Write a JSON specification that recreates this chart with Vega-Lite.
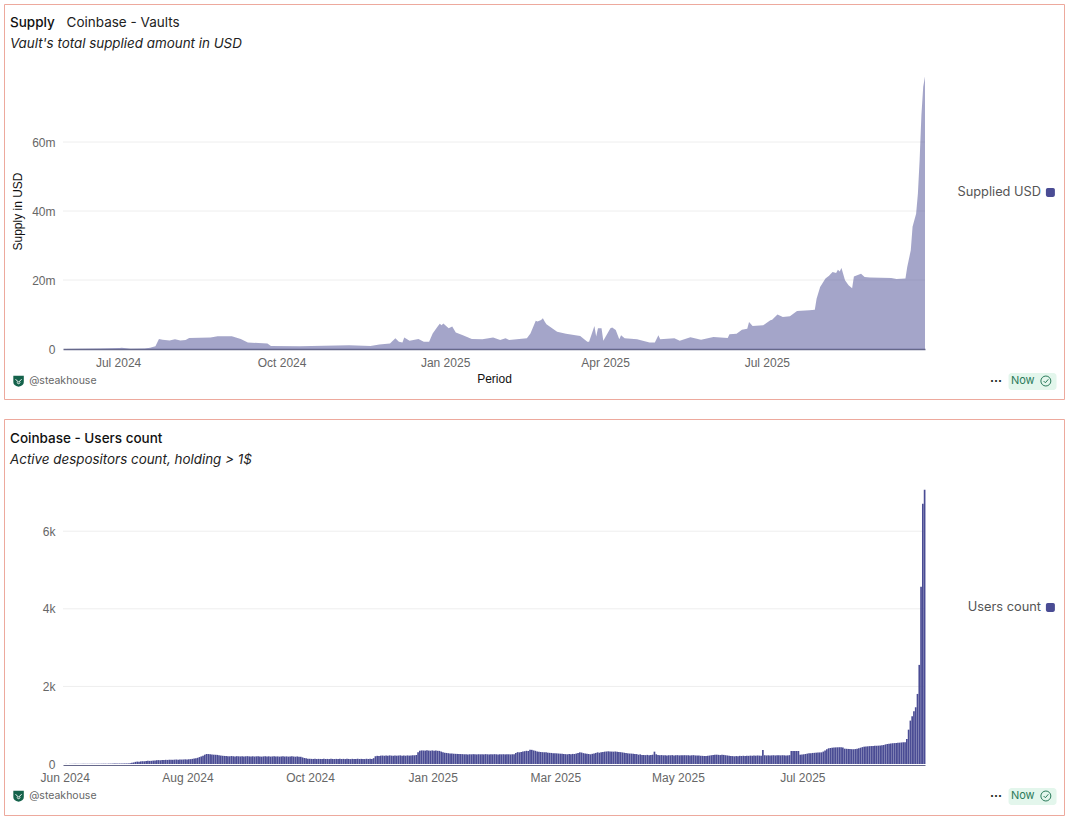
{
"$schema":"https://vega.github.io/schema/vega-lite/v6.json",
"padding":{"left":3,"top":3,"right":3,"bottom":1},
"background":"white",
"spacing":18,
"resolve":{"scale":{"color":"independent"}},
"config":{"view":{"stroke":"#eda99d","strokeWidth":1}},
"vconcat":[
{"width":1060,"height":395,"view":{"stroke":"#eda99d"},
"title":{"text":"Supply","subtitle":"Vault's total supplied amount in USD","anchor":"start","frame":"group","offset":-46,"dx":6,"font":"Inter","fontSize":13.5,"fontWeight":500,"color":"#111","subtitleFont":"Inter","subtitleFontStyle":"italic","subtitleFontSize":13.4,"subtitleColor":"#222","subtitlePadding":7},
"layer":[
{"data":{"values":[{"v":20000000},{"v":40000000},{"v":60000000}]},"mark":{"type":"rule","color":"#eeeeee","strokeWidth":1},
"encoding":{"x":{"datum":{"year":2024,"month":5,"date":31,"utc":true},"type":"temporal","scale":{"type":"utc","domain":[{"year":2024,"month":5,"date":31,"utc":true},{"year":2025,"month":9,"date":28,"utc":true}],"range":[59,921]},
"axis":{"values":[{"year":2024,"month":7,"date":1,"utc":true},{"year":2024,"month":10,"date":1,"utc":true},{"year":2025,"month":1,"date":1,"utc":true},{"year":2025,"month":4,"date":1,"utc":true},{"year":2025,"month":7,"date":1,"utc":true}],"format":"%b %Y","offset":-50,"title":"Period","titleFont":"Liberation Sans","titleFontWeight":"normal","titleFontSize":12,"titleColor":"#111","titlePadding":5,"labelFont":"Liberation Sans","labelFontSize":12,"labelColor":"#666","labelPadding":8,"ticks":false,"grid":false,"domainColor":"#66688a","domainWidth":1.5,"labelFlush":false}},
"x2":{"datum":{"year":2025,"month":9,"date":28,"utc":true}},
"y":{"field":"v","type":"quantitative","scale":{"domain":[0,80000000],"range":[345,69],"nice":false},"axis":{"values":[0,20000000,40000000,60000000],"labelExpr":"datum.value == 0 ? '0' : (datum.value / 1000000) + 'm'","offset":-59,"title":"Supply in USD","titleFont":"Liberation Sans","titleFontWeight":"normal","titleFontSize":12,"titleColor":"#111","titlePadding":7,"labelFont":"Liberation Sans","labelFontSize":12,"labelColor":"#666","labelPadding":8,"ticks":false,"domain":false,"grid":false}}}},
{"data":{"values":[
{"d":"2024-06-01","v":20000},{"d":"2024-06-10","v":50000},{"d":"2024-06-21","v":150000},{"d":"2024-07-02","v":300000},{"d":"2024-07-03","v":350000},{"d":"2024-07-08","v":100000},{"d":"2024-07-16","v":150000},{"d":"2024-07-19","v":350000},{"d":"2024-07-22","v":800000},{"d":"2024-07-24","v":2900000},{"d":"2024-07-26","v":2700000},{"d":"2024-07-30","v":2500000},{"d":"2024-08-02","v":2800000},{"d":"2024-08-05","v":2500000},{"d":"2024-08-08","v":2600000},{"d":"2024-08-10","v":3200000},{"d":"2024-08-22","v":3300000},{"d":"2024-08-26","v":3700000},{"d":"2024-09-03","v":3700000},{"d":"2024-09-08","v":2900000},{"d":"2024-09-12","v":1900000},{"d":"2024-09-23","v":1600000},{"d":"2024-09-25","v":900000},{"d":"2024-10-11","v":800000},{"d":"2024-11-08","v":1060000},{"d":"2024-11-20","v":900000},{"d":"2024-11-25","v":1300000},{"d":"2024-12-01","v":1600000},{"d":"2024-12-04","v":3100000},{"d":"2024-12-06","v":2100000},{"d":"2024-12-08","v":1900000},{"d":"2024-12-09","v":3300000},{"d":"2024-12-12","v":2400000},{"d":"2024-12-17","v":2900000},{"d":"2024-12-20","v":2100000},{"d":"2024-12-23","v":2100000},{"d":"2024-12-25","v":4500000},{"d":"2024-12-28","v":6700000},{"d":"2024-12-29","v":7300000},{"d":"2024-12-30","v":6900000},{"d":"2024-12-31","v":7400000},{"d":"2025-01-03","v":6000000},{"d":"2025-01-05","v":6500000},{"d":"2025-01-07","v":4800000},{"d":"2025-01-11","v":4000000},{"d":"2025-01-16","v":2900000},{"d":"2025-01-22","v":2800000},{"d":"2025-01-28","v":3300000},{"d":"2025-02-01","v":2600000},{"d":"2025-02-04","v":3100000},{"d":"2025-02-06","v":2600000},{"d":"2025-02-16","v":3100000},{"d":"2025-02-18","v":4500000},{"d":"2025-02-21","v":8200000},{"d":"2025-02-22","v":8000000},{"d":"2025-02-24","v":8400000},{"d":"2025-02-25","v":8900000},{"d":"2025-02-26","v":8000000},{"d":"2025-02-27","v":7200000},{"d":"2025-03-05","v":5000000},{"d":"2025-03-10","v":4400000},{"d":"2025-03-18","v":3800000},{"d":"2025-03-22","v":2100000},{"d":"2025-03-23","v":2100000},{"d":"2025-03-26","v":6700000},{"d":"2025-03-27","v":3600000},{"d":"2025-03-28","v":6000000},{"d":"2025-03-30","v":6000000},{"d":"2025-03-31","v":2400000},{"d":"2025-04-04","v":6000000},{"d":"2025-04-05","v":6200000},{"d":"2025-04-07","v":5500000},{"d":"2025-04-09","v":2800000},{"d":"2025-04-10","v":4000000},{"d":"2025-04-12","v":3100000},{"d":"2025-04-19","v":2800000},{"d":"2025-04-26","v":1900000},{"d":"2025-04-29","v":1900000},{"d":"2025-05-01","v":4000000},{"d":"2025-05-02","v":2800000},{"d":"2025-05-10","v":3100000},{"d":"2025-05-13","v":2400000},{"d":"2025-05-19","v":3400000},{"d":"2025-05-25","v":2700000},{"d":"2025-06-01","v":3500000},{"d":"2025-06-09","v":3200000},{"d":"2025-06-10","v":4300000},{"d":"2025-06-14","v":4400000},{"d":"2025-06-17","v":5600000},{"d":"2025-06-20","v":5900000},{"d":"2025-06-21","v":7800000},{"d":"2025-06-23","v":6700000},{"d":"2025-06-29","v":6900000},{"d":"2025-07-03","v":8300000},{"d":"2025-07-04","v":8500000},{"d":"2025-07-07","v":10000000},{"d":"2025-07-10","v":9300000},{"d":"2025-07-14","v":9500000},{"d":"2025-07-18","v":11000000},{"d":"2025-07-25","v":11200000},{"d":"2025-07-28","v":11400000},{"d":"2025-07-29","v":14600000},{"d":"2025-07-31","v":18000000},{"d":"2025-08-03","v":20400000},{"d":"2025-08-05","v":21200000},{"d":"2025-08-07","v":22300000},{"d":"2025-08-09","v":22000000},{"d":"2025-08-10","v":23000000},{"d":"2025-08-11","v":22500000},{"d":"2025-08-12","v":23500000},{"d":"2025-08-14","v":19900000},{"d":"2025-08-16","v":18500000},{"d":"2025-08-18","v":17600000},{"d":"2025-08-19","v":21000000},{"d":"2025-08-23","v":21800000},{"d":"2025-08-25","v":20900000},{"d":"2025-08-28","v":20700000},{"d":"2025-09-09","v":20600000},{"d":"2025-09-12","v":20300000},{"d":"2025-09-17","v":20400000},{"d":"2025-09-18","v":23800000},{"d":"2025-09-20","v":28600000},{"d":"2025-09-21","v":35400000},{"d":"2025-09-23","v":39200000},{"d":"2025-09-24","v":45000000},{"d":"2025-09-25","v":55000000},{"d":"2025-09-26","v":68000000},{"d":"2025-09-27","v":76000000},{"d":"2025-09-28","v":79000000}
]},"mark":{"type":"area","opacity":0.5},
"encoding":{"x":{"field":"d","type":"temporal"},"y":{"field":"v","type":"quantitative"},
"color":{"datum":"Supplied USD","scale":{"range":["#4a4c94"]},"legend":{"title":null,"orient":"none","legendX":1040,"legendY":182,"symbolType":"M-1,-0.6 Q-1,-1 -0.6,-1 L0.6,-1 Q1,-1 1,-0.6 L1,0.6 Q1,1 0.6,1 L-0.6,1 Q-1,1 -1,0.6 Z","symbolSize":81,"symbolOpacity":1,"labelFont":"Inter","labelFontSize":12.8,"labelColor":"#555","encode":{"labels":{"update":{"align":{"value":"right"},"x":{"value":-3}}}}}}}},
{"data":{"values":[{"t":"Coinbase - Vaults"}]},"mark":{"type":"text","align":"left","font":"Inter","fontSize":13.5,"color":"#222"},"encoding":{"text":{"field":"t"},"x":{"datum":{"year":2024,"month":6,"date":2,"utc":true},"type":"temporal"},"y":{"datum":94370000}}},
{"data":{"values":[{"t":"@steakhouse"}]},"mark":{"type":"text","align":"left","font":"Inter","fontSize":10.5,"color":"#666"},"encoding":{"text":{"field":"t"},"x":{"datum":{"year":2024,"month":5,"date":12,"utc":true},"type":"temporal"},"y":{"datum":-9280000}}},
{"data":{"values":[{"t":"logo"}]},"mark":{"type":"point","filled":true,"opacity":1,"color":"#14624b","size":110,"shape":"M-1,-1 L1,-1 L1,0.2 Q1,0.9 0,1.1 Q-1,0.9 -1,0.2 Z"},"encoding":{"x":{"datum":{"year":2024,"month":5,"date":6,"utc":true},"type":"temporal"},"y":{"datum":-9280000}}},
{"data":{"values":[{"t":"logo"}]},"mark":{"type":"point","filled":false,"opacity":1,"color":"white","strokeWidth":1,"size":36,"shape":"M-1,-0.6 L0,0.4 L1,-0.6 M-0.6,0.5 L0,0.9 L0.6,0.5"},"encoding":{"x":{"datum":{"year":2024,"month":5,"date":6,"utc":true},"type":"temporal"},"y":{"datum":-9280000}}},
{"data":{"values":[{"t":"···"}]},"mark":{"type":"text","font":"Inter","fontSize":12,"fontWeight":"bold","color":"#222"},"encoding":{"text":{"field":"t"},"x":{"datum":{"year":2025,"month":11,"date":7,"utc":true},"type":"temporal"},"y":{"datum":-9280000}}},
{"data":{"values":[{"t":"badge"}]},"mark":{"type":"rect","color":"#e3f6ec","cornerRadius":3},"encoding":{"x":{"datum":{"year":2025,"month":11,"date":14,"utc":true},"type":"temporal"},"x2":{"datum":{"year":2025,"month":12,"date":11,"utc":true}},"y":{"datum":-6960000},"y2":{"datum":-11900000}}},
{"data":{"values":[{"t":"Now"}]},"mark":{"type":"text","font":"Inter","fontSize":11,"color":"#2a7a5a"},"encoding":{"text":{"field":"t"},"x":{"datum":{"year":2025,"month":11,"date":22,"utc":true},"type":"temporal"},"y":{"datum":-9280000}}},
{"data":{"values":[{"t":"check"}]},"mark":{"type":"point","filled":false,"opacity":1,"color":"#2a7a5a","strokeWidth":1,"size":100,"shape":"M-1,0 A1,1 0 1,1 1,0 A1,1 0 1,1 -1,0 M-0.45,0 L-0.1,0.35 L0.5,-0.35"},"encoding":{"x":{"datum":{"year":2025,"month":12,"date":5,"utc":true},"type":"temporal"},"y":{"datum":-9280000}}}
]},
{"width":1060,"height":396,"view":{"stroke":"#eda99d"},
"title":{"text":"Coinbase - Users count","subtitle":"Active despositors count, holding > 1$","anchor":"start","frame":"group","offset":-47,"dx":6,"font":"Inter","fontSize":13.5,"fontWeight":500,"color":"#111","subtitleFont":"Inter","subtitleFontStyle":"italic","subtitleFontSize":13.4,"subtitleColor":"#222","subtitlePadding":7},
"layer":[
{"data":{"values":[{"v":2000},{"v":4000},{"v":6000}]},"mark":{"type":"rule","color":"#eeeeee","strokeWidth":1},
"encoding":{"x":{"datum":{"year":2024,"month":5,"date":31,"utc":true},"type":"temporal","scale":{"type":"utc","domain":[{"year":2024,"month":5,"date":31,"utc":true},{"year":2025,"month":9,"date":28,"utc":true}],"range":[59,921]},
"axis":{"values":[{"year":2024,"month":6,"date":1,"utc":true},{"year":2024,"month":8,"date":9,"utc":true},{"year":2024,"month":10,"date":17,"utc":true},{"year":2024,"month":12,"date":25,"utc":true},{"year":2025,"month":3,"date":4,"utc":true},{"year":2025,"month":5,"date":12,"utc":true},{"year":2025,"month":7,"date":21,"utc":true}],"labelExpr":"utcFormat(utcOffset('date', datum.value, 7), '%b %Y')","offset":-50,"title":null,"labelFont":"Liberation Sans","labelFontSize":12,"labelColor":"#666","labelPadding":7,"ticks":false,"grid":false,"domainColor":"#66688a","domainWidth":1,"labelFlush":false}},
"x2":{"datum":{"year":2025,"month":9,"date":28,"utc":true}},
"y":{"field":"v","type":"quantitative","scale":{"domain":[0,7100],"range":[345,69.5],"nice":false},"axis":{"values":[0,2000,4000,6000],"labelExpr":"datum.value == 0 ? '0' : (datum.value / 1000) + 'k'","offset":-59,"title":null,"labelFont":"Liberation Sans","labelFontSize":12,"labelColor":"#666","labelPadding":8,"ticks":false,"domain":false,"grid":false}}}},
{"data":{"values":[
{"d":"2024-06-01","v":3},{"d":"2024-06-02","v":3},{"d":"2024-06-03","v":3},{"d":"2024-06-04","v":3},{"d":"2024-06-05","v":4},{"d":"2024-06-06","v":4},{"d":"2024-06-07","v":4},{"d":"2024-06-08","v":4},{"d":"2024-06-09","v":4},{"d":"2024-06-10","v":5},{"d":"2024-06-11","v":5},{"d":"2024-06-12","v":5},{"d":"2024-06-13","v":5},{"d":"2024-06-14","v":5},{"d":"2024-06-15","v":6},{"d":"2024-06-16","v":6},{"d":"2024-06-17","v":6},{"d":"2024-06-18","v":6},{"d":"2024-06-19","v":7},{"d":"2024-06-20","v":7},{"d":"2024-06-21","v":7},{"d":"2024-06-22","v":8},{"d":"2024-06-23","v":8},{"d":"2024-06-24","v":8},{"d":"2024-06-25","v":9},{"d":"2024-06-26","v":9},{"d":"2024-06-27","v":10},{"d":"2024-06-28","v":10},{"d":"2024-06-29","v":11},{"d":"2024-06-30","v":11},
{"d":"2024-07-01","v":12},{"d":"2024-07-02","v":12},{"d":"2024-07-03","v":13},{"d":"2024-07-04","v":14},{"d":"2024-07-05","v":14},{"d":"2024-07-06","v":15},{"d":"2024-07-07","v":20},{"d":"2024-07-08","v":30},{"d":"2024-07-09","v":40},{"d":"2024-07-10","v":55},{"d":"2024-07-11","v":62},{"d":"2024-07-12","v":60},{"d":"2024-07-13","v":68},{"d":"2024-07-14","v":72},{"d":"2024-07-15","v":70},{"d":"2024-07-16","v":78},{"d":"2024-07-17","v":85},{"d":"2024-07-18","v":80},{"d":"2024-07-19","v":82},{"d":"2024-07-20","v":88},{"d":"2024-07-21","v":92},{"d":"2024-07-22","v":98},{"d":"2024-07-23","v":100},{"d":"2024-07-24","v":96},{"d":"2024-07-25","v":104},{"d":"2024-07-26","v":102},{"d":"2024-07-27","v":108},{"d":"2024-07-28","v":105},{"d":"2024-07-29","v":110},{"d":"2024-07-30","v":112},{"d":"2024-07-31","v":108},
{"d":"2024-08-01","v":112},{"d":"2024-08-02","v":115},{"d":"2024-08-03","v":110},{"d":"2024-08-04","v":118},{"d":"2024-08-05","v":114},{"d":"2024-08-06","v":116},{"d":"2024-08-07","v":120},{"d":"2024-08-08","v":117},{"d":"2024-08-09","v":122},{"d":"2024-08-10","v":125},{"d":"2024-08-11","v":132},{"d":"2024-08-12","v":140},{"d":"2024-08-13","v":146},{"d":"2024-08-14","v":160},{"d":"2024-08-15","v":178},{"d":"2024-08-16","v":195},{"d":"2024-08-17","v":215},{"d":"2024-08-18","v":240},{"d":"2024-08-19","v":258},{"d":"2024-08-20","v":256},{"d":"2024-08-21","v":250},{"d":"2024-08-22","v":245},{"d":"2024-08-23","v":240},{"d":"2024-08-24","v":238},{"d":"2024-08-25","v":235},{"d":"2024-08-26","v":225},{"d":"2024-08-27","v":218},{"d":"2024-08-28","v":212},{"d":"2024-08-29","v":208},{"d":"2024-08-30","v":203},{"d":"2024-08-31","v":200},
{"d":"2024-09-01","v":198},{"d":"2024-09-02","v":205},{"d":"2024-09-03","v":200},{"d":"2024-09-04","v":196},{"d":"2024-09-05","v":202},{"d":"2024-09-06","v":198},{"d":"2024-09-07","v":195},{"d":"2024-09-08","v":200},{"d":"2024-09-09","v":193},{"d":"2024-09-10","v":198},{"d":"2024-09-11","v":202},{"d":"2024-09-12","v":196},{"d":"2024-09-13","v":194},{"d":"2024-09-14","v":199},{"d":"2024-09-15","v":192},{"d":"2024-09-16","v":197},{"d":"2024-09-17","v":201},{"d":"2024-09-18","v":195},{"d":"2024-09-19","v":190},{"d":"2024-09-20","v":196},{"d":"2024-09-21","v":200},{"d":"2024-09-22","v":193},{"d":"2024-09-23","v":198},{"d":"2024-09-24","v":191},{"d":"2024-09-25","v":195},{"d":"2024-09-26","v":199},{"d":"2024-09-27","v":192},{"d":"2024-09-28","v":196},{"d":"2024-09-29","v":190},{"d":"2024-09-30","v":194},
{"d":"2024-10-01","v":198},{"d":"2024-10-02","v":192},{"d":"2024-10-03","v":196},{"d":"2024-10-04","v":190},{"d":"2024-10-05","v":194},{"d":"2024-10-06","v":199},{"d":"2024-10-07","v":193},{"d":"2024-10-08","v":188},{"d":"2024-10-09","v":195},{"d":"2024-10-10","v":190},{"d":"2024-10-11","v":186},{"d":"2024-10-12","v":170},{"d":"2024-10-13","v":155},{"d":"2024-10-14","v":145},{"d":"2024-10-15","v":138},{"d":"2024-10-16","v":135},{"d":"2024-10-17","v":132},{"d":"2024-10-18","v":130},{"d":"2024-10-19","v":134},{"d":"2024-10-20","v":128},{"d":"2024-10-21","v":132},{"d":"2024-10-22","v":130},{"d":"2024-10-23","v":126},{"d":"2024-10-24","v":133},{"d":"2024-10-25","v":129},{"d":"2024-10-26","v":131},{"d":"2024-10-27","v":127},{"d":"2024-10-28","v":134},{"d":"2024-10-29","v":130},{"d":"2024-10-30","v":128},{"d":"2024-10-31","v":132},
{"d":"2024-11-01","v":130},{"d":"2024-11-02","v":135},{"d":"2024-11-03","v":128},{"d":"2024-11-04","v":132},{"d":"2024-11-05","v":127},{"d":"2024-11-06","v":134},{"d":"2024-11-07","v":130},{"d":"2024-11-08","v":126},{"d":"2024-11-09","v":133},{"d":"2024-11-10","v":129},{"d":"2024-11-11","v":131},{"d":"2024-11-12","v":136},{"d":"2024-11-13","v":128},{"d":"2024-11-14","v":132},{"d":"2024-11-15","v":130},{"d":"2024-11-16","v":127},{"d":"2024-11-17","v":135},{"d":"2024-11-18","v":129},{"d":"2024-11-19","v":133},{"d":"2024-11-20","v":131},{"d":"2024-11-21","v":150},{"d":"2024-11-22","v":200},{"d":"2024-11-23","v":210},{"d":"2024-11-24","v":205},{"d":"2024-11-25","v":215},{"d":"2024-11-26","v":218},{"d":"2024-11-27","v":212},{"d":"2024-11-28","v":220},{"d":"2024-11-29","v":215},{"d":"2024-11-30","v":222},
{"d":"2024-12-01","v":216},{"d":"2024-12-02","v":212},{"d":"2024-12-03","v":220},{"d":"2024-12-04","v":214},{"d":"2024-12-05","v":218},{"d":"2024-12-06","v":222},{"d":"2024-12-07","v":215},{"d":"2024-12-08","v":219},{"d":"2024-12-09","v":213},{"d":"2024-12-10","v":221},{"d":"2024-12-11","v":216},{"d":"2024-12-12","v":218},{"d":"2024-12-13","v":225},{"d":"2024-12-14","v":224},{"d":"2024-12-15","v":232},{"d":"2024-12-16","v":300},{"d":"2024-12-17","v":344},{"d":"2024-12-18","v":350},{"d":"2024-12-19","v":348},{"d":"2024-12-20","v":345},{"d":"2024-12-21","v":352},{"d":"2024-12-22","v":346},{"d":"2024-12-23","v":342},{"d":"2024-12-24","v":350},{"d":"2024-12-25","v":344},{"d":"2024-12-26","v":348},{"d":"2024-12-27","v":340},{"d":"2024-12-28","v":338},{"d":"2024-12-29","v":320},{"d":"2024-12-30","v":305},{"d":"2024-12-31","v":290},
{"d":"2025-01-01","v":285},{"d":"2025-01-02","v":278},{"d":"2025-01-03","v":272},{"d":"2025-01-04","v":268},{"d":"2025-01-05","v":265},{"d":"2025-01-06","v":262},{"d":"2025-01-07","v":260},{"d":"2025-01-08","v":258},{"d":"2025-01-09","v":256},{"d":"2025-01-10","v":254},{"d":"2025-01-11","v":250},{"d":"2025-01-12","v":252},{"d":"2025-01-13","v":248},{"d":"2025-01-14","v":251},{"d":"2025-01-15","v":249},{"d":"2025-01-16","v":253},{"d":"2025-01-17","v":250},{"d":"2025-01-18","v":247},{"d":"2025-01-19","v":252},{"d":"2025-01-20","v":249},{"d":"2025-01-21","v":251},{"d":"2025-01-22","v":248},{"d":"2025-01-23","v":254},{"d":"2025-01-24","v":250},{"d":"2025-01-25","v":247},{"d":"2025-01-26","v":252},{"d":"2025-01-27","v":249},{"d":"2025-01-28","v":253},{"d":"2025-01-29","v":250},{"d":"2025-01-30","v":248},{"d":"2025-01-31","v":251},
{"d":"2025-02-01","v":249},{"d":"2025-02-02","v":252},{"d":"2025-02-03","v":248},{"d":"2025-02-04","v":253},{"d":"2025-02-05","v":250},{"d":"2025-02-06","v":247},{"d":"2025-02-07","v":251},{"d":"2025-02-08","v":252},{"d":"2025-02-09","v":285},{"d":"2025-02-10","v":305},{"d":"2025-02-11","v":300},{"d":"2025-02-12","v":310},{"d":"2025-02-13","v":320},{"d":"2025-02-14","v":330},{"d":"2025-02-15","v":340},{"d":"2025-02-16","v":335},{"d":"2025-02-17","v":370},{"d":"2025-02-18","v":365},{"d":"2025-02-19","v":350},{"d":"2025-02-20","v":340},{"d":"2025-02-21","v":320},{"d":"2025-02-22","v":315},{"d":"2025-02-23","v":310},{"d":"2025-02-24","v":305},{"d":"2025-02-25","v":302},{"d":"2025-02-26","v":300},{"d":"2025-02-27","v":292},{"d":"2025-02-28","v":288},
{"d":"2025-03-01","v":285},{"d":"2025-03-02","v":280},{"d":"2025-03-03","v":278},{"d":"2025-03-04","v":274},{"d":"2025-03-05","v":270},{"d":"2025-03-06","v":266},{"d":"2025-03-07","v":262},{"d":"2025-03-08","v":258},{"d":"2025-03-09","v":254},{"d":"2025-03-10","v":250},{"d":"2025-03-11","v":256},{"d":"2025-03-12","v":252},{"d":"2025-03-13","v":260},{"d":"2025-03-14","v":258},{"d":"2025-03-15","v":270},{"d":"2025-03-16","v":285},{"d":"2025-03-17","v":300},{"d":"2025-03-18","v":295},{"d":"2025-03-19","v":280},{"d":"2025-03-20","v":272},{"d":"2025-03-21","v":265},{"d":"2025-03-22","v":258},{"d":"2025-03-23","v":250},{"d":"2025-03-24","v":262},{"d":"2025-03-25","v":270},{"d":"2025-03-26","v":285},{"d":"2025-03-27","v":300},{"d":"2025-03-28","v":290},{"d":"2025-03-29","v":305},{"d":"2025-03-30","v":312},{"d":"2025-03-31","v":318},
{"d":"2025-04-01","v":322},{"d":"2025-04-02","v":327},{"d":"2025-04-03","v":325},{"d":"2025-04-04","v":320},{"d":"2025-04-05","v":318},{"d":"2025-04-06","v":322},{"d":"2025-04-07","v":316},{"d":"2025-04-08","v":310},{"d":"2025-04-09","v":305},{"d":"2025-04-10","v":298},{"d":"2025-04-11","v":290},{"d":"2025-04-12","v":284},{"d":"2025-04-13","v":275},{"d":"2025-04-14","v":270},{"d":"2025-04-15","v":268},{"d":"2025-04-16","v":264},{"d":"2025-04-17","v":260},{"d":"2025-04-18","v":255},{"d":"2025-04-19","v":240},{"d":"2025-04-20","v":248},{"d":"2025-04-21","v":235},{"d":"2025-04-22","v":232},{"d":"2025-04-23","v":228},{"d":"2025-04-24","v":235},{"d":"2025-04-25","v":226},{"d":"2025-04-26","v":230},{"d":"2025-04-27","v":240},{"d":"2025-04-28","v":318},{"d":"2025-04-29","v":250},{"d":"2025-04-30","v":232},
{"d":"2025-05-01","v":226},{"d":"2025-05-02","v":230},{"d":"2025-05-03","v":224},{"d":"2025-05-04","v":228},{"d":"2025-05-05","v":222},{"d":"2025-05-06","v":226},{"d":"2025-05-07","v":224},{"d":"2025-05-08","v":229},{"d":"2025-05-09","v":222},{"d":"2025-05-10","v":226},{"d":"2025-05-11","v":228},{"d":"2025-05-12","v":222},{"d":"2025-05-13","v":225},{"d":"2025-05-14","v":223},{"d":"2025-05-15","v":227},{"d":"2025-05-16","v":224},{"d":"2025-05-17","v":226},{"d":"2025-05-18","v":222},{"d":"2025-05-19","v":224},{"d":"2025-05-20","v":228},{"d":"2025-05-21","v":220},{"d":"2025-05-22","v":222},{"d":"2025-05-23","v":216},{"d":"2025-05-24","v":212},{"d":"2025-05-25","v":210},{"d":"2025-05-26","v":206},{"d":"2025-05-27","v":208},{"d":"2025-05-28","v":212},{"d":"2025-05-29","v":218},{"d":"2025-05-30","v":225},{"d":"2025-05-31","v":232},
{"d":"2025-06-01","v":238},{"d":"2025-06-02","v":240},{"d":"2025-06-03","v":236},{"d":"2025-06-04","v":230},{"d":"2025-06-05","v":240},{"d":"2025-06-06","v":234},{"d":"2025-06-07","v":226},{"d":"2025-06-08","v":220},{"d":"2025-06-09","v":214},{"d":"2025-06-10","v":208},{"d":"2025-06-11","v":204},{"d":"2025-06-12","v":198},{"d":"2025-06-13","v":205},{"d":"2025-06-14","v":202},{"d":"2025-06-15","v":210},{"d":"2025-06-16","v":206},{"d":"2025-06-17","v":212},{"d":"2025-06-18","v":208},{"d":"2025-06-19","v":214},{"d":"2025-06-20","v":210},{"d":"2025-06-21","v":216},{"d":"2025-06-22","v":212},{"d":"2025-06-23","v":218},{"d":"2025-06-24","v":214},{"d":"2025-06-25","v":220},{"d":"2025-06-26","v":216},{"d":"2025-06-27","v":212},{"d":"2025-06-28","v":360},{"d":"2025-06-29","v":226},{"d":"2025-06-30","v":220},
{"d":"2025-07-01","v":224},{"d":"2025-07-02","v":218},{"d":"2025-07-03","v":222},{"d":"2025-07-04","v":226},{"d":"2025-07-05","v":220},{"d":"2025-07-06","v":224},{"d":"2025-07-07","v":228},{"d":"2025-07-08","v":222},{"d":"2025-07-09","v":226},{"d":"2025-07-10","v":224},{"d":"2025-07-11","v":218},{"d":"2025-07-12","v":222},{"d":"2025-07-13","v":228},{"d":"2025-07-14","v":335},{"d":"2025-07-15","v":335},{"d":"2025-07-16","v":335},{"d":"2025-07-17","v":335},{"d":"2025-07-18","v":335},{"d":"2025-07-19","v":240},{"d":"2025-07-20","v":245},{"d":"2025-07-21","v":250},{"d":"2025-07-22","v":258},{"d":"2025-07-23","v":268},{"d":"2025-07-24","v":275},{"d":"2025-07-25","v":280},{"d":"2025-07-26","v":285},{"d":"2025-07-27","v":288},{"d":"2025-07-28","v":292},{"d":"2025-07-29","v":295},{"d":"2025-07-30","v":298},{"d":"2025-07-31","v":300},
{"d":"2025-08-01","v":320},{"d":"2025-08-02","v":350},{"d":"2025-08-03","v":380},{"d":"2025-08-04","v":404},{"d":"2025-08-05","v":412},{"d":"2025-08-06","v":420},{"d":"2025-08-07","v":425},{"d":"2025-08-08","v":428},{"d":"2025-08-09","v":430},{"d":"2025-08-10","v":432},{"d":"2025-08-11","v":430},{"d":"2025-08-12","v":428},{"d":"2025-08-13","v":395},{"d":"2025-08-14","v":392},{"d":"2025-08-15","v":388},{"d":"2025-08-16","v":385},{"d":"2025-08-17","v":382},{"d":"2025-08-18","v":380},{"d":"2025-08-19","v":385},{"d":"2025-08-20","v":392},{"d":"2025-08-21","v":405},{"d":"2025-08-22","v":420},{"d":"2025-08-23","v":435},{"d":"2025-08-24","v":447},{"d":"2025-08-25","v":450},{"d":"2025-08-26","v":455},{"d":"2025-08-27","v":460},{"d":"2025-08-28","v":462},{"d":"2025-08-29","v":465},{"d":"2025-08-30","v":468},{"d":"2025-08-31","v":470},
{"d":"2025-09-01","v":473},{"d":"2025-09-02","v":476},{"d":"2025-09-03","v":480},{"d":"2025-09-04","v":490},{"d":"2025-09-05","v":505},{"d":"2025-09-06","v":515},{"d":"2025-09-07","v":525},{"d":"2025-09-08","v":530},{"d":"2025-09-09","v":535},{"d":"2025-09-10","v":538},{"d":"2025-09-11","v":542},{"d":"2025-09-12","v":546},{"d":"2025-09-13","v":550},{"d":"2025-09-14","v":555},{"d":"2025-09-15","v":560},{"d":"2025-09-16","v":560},{"d":"2025-09-17","v":645},{"d":"2025-09-18","v":885},{"d":"2025-09-19","v":1118},{"d":"2025-09-20","v":1230},{"d":"2025-09-21","v":1360},{"d":"2025-09-22","v":1462},{"d":"2025-09-23","v":1806},{"d":"2025-09-24","v":2554},{"d":"2025-09-25","v":4566},{"d":"2025-09-26","v":6708},{"d":"2025-09-27","v":7069}
]},"mark":{"type":"bar","binSpacing":0.1},
"encoding":{"x":{"field":"d","type":"temporal","timeUnit":"utcyearmonthdate"},"y":{"field":"v","type":"quantitative"},
"color":{"datum":"Users count","scale":{"range":["#4a4c94"]},"legend":{"title":null,"orient":"none","legendX":1040,"legendY":182,"symbolType":"M-1,-0.6 Q-1,-1 -0.6,-1 L0.6,-1 Q1,-1 1,-0.6 L1,0.6 Q1,1 0.6,1 L-0.6,1 Q-1,1 -1,0.6 Z","symbolSize":81,"symbolOpacity":1,"labelFont":"Inter","labelFontSize":12.8,"labelColor":"#555","encode":{"labels":{"update":{"align":{"value":"right"},"x":{"value":-3}}}}}}}},
{"data":{"values":[{"t":"@steakhouse"}]},"mark":{"type":"text","align":"left","font":"Inter","fontSize":10.5,"color":"#666"},"encoding":{"text":{"field":"t"},"x":{"datum":{"year":2024,"month":5,"date":12,"utc":true},"type":"temporal"},"y":{"datum":-825}}},
{"data":{"values":[{"t":"logo"}]},"mark":{"type":"point","filled":true,"opacity":1,"color":"#14624b","size":110,"shape":"M-1,-1 L1,-1 L1,0.2 Q1,0.9 0,1.1 Q-1,0.9 -1,0.2 Z"},"encoding":{"x":{"datum":{"year":2024,"month":5,"date":6,"utc":true},"type":"temporal"},"y":{"datum":-825}}},
{"data":{"values":[{"t":"logo"}]},"mark":{"type":"point","filled":false,"opacity":1,"color":"white","strokeWidth":1,"size":36,"shape":"M-1,-0.6 L0,0.4 L1,-0.6 M-0.6,0.5 L0,0.9 L0.6,0.5"},"encoding":{"x":{"datum":{"year":2024,"month":5,"date":6,"utc":true},"type":"temporal"},"y":{"datum":-825}}},
{"data":{"values":[{"t":"···"}]},"mark":{"type":"text","font":"Inter","fontSize":12,"fontWeight":"bold","color":"#222"},"encoding":{"text":{"field":"t"},"x":{"datum":{"year":2025,"month":11,"date":7,"utc":true},"type":"temporal"},"y":{"datum":-825}}},
{"data":{"values":[{"t":"badge"}]},"mark":{"type":"rect","color":"#e3f6ec","cornerRadius":3},"encoding":{"x":{"datum":{"year":2025,"month":11,"date":14,"utc":true},"type":"temporal"},"x2":{"datum":{"year":2025,"month":12,"date":11,"utc":true}},"y":{"datum":-618},"y2":{"datum":-1057}}},
{"data":{"values":[{"t":"Now"}]},"mark":{"type":"text","font":"Inter","fontSize":11,"color":"#2a7a5a"},"encoding":{"text":{"field":"t"},"x":{"datum":{"year":2025,"month":11,"date":22,"utc":true},"type":"temporal"},"y":{"datum":-825}}},
{"data":{"values":[{"t":"check"}]},"mark":{"type":"point","filled":false,"opacity":1,"color":"#2a7a5a","strokeWidth":1,"size":100,"shape":"M-1,0 A1,1 0 1,1 1,0 A1,1 0 1,1 -1,0 M-0.45,0 L-0.1,0.35 L0.5,-0.35"},"encoding":{"x":{"datum":{"year":2025,"month":12,"date":5,"utc":true},"type":"temporal"},"y":{"datum":-825}}}
]}
]}
